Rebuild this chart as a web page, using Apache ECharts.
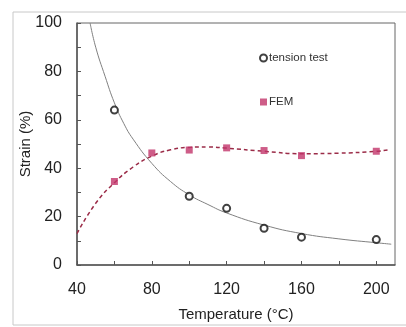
<!DOCTYPE html>
<html>
<head>
<meta charset="utf-8">
<script src="https://cdn.jsdelivr.net/npm/echarts@6/dist/echarts.min.js"></script>
<style>
  html, body { margin: 0; padding: 0; background: #fff; }
  #chart { width: 406px; height: 327px; }
</style>
</head>
<body>
<div id="chart"></div>
<script>
// measured points
const tensionX = [60, 100, 120, 140, 160, 200]
const tensionY = [64, 28.4, 23.4, 15.2, 11.5, 10.5]
const femX = [60, 80, 100, 120, 140, 160, 200]
const femY = [34.5, 46.3, 47.5, 48.4, 47.3, 45.2, 47]

// fitted curves
const tensionFitX = [47, 50, 55, 60, 65, 70, 80, 90, 100, 110, 120, 140, 160, 180, 200, 208]
const tensionFitY = [100, 90, 78, 67, 58.5, 52, 42, 34.5, 29, 25, 21.5, 16.5, 13, 10.8, 9.2, 8.6]
const femFitX = [40, 50, 60, 70, 80, 90, 100, 110, 120, 140, 160, 180, 200, 206]
const femFitY = [13, 25.5, 34, 40.5, 45, 47.6, 48.6, 48.8, 48.3, 47, 46, 46.2, 47, 47.5]

const pairs = (xs, ys) => xs.map((x, i) => [x, ys[i]])

const font = 'Liberation Sans, Arial, sans-serif'
const axisColor = '#555'

const chart = echarts.init(document.getElementById('chart'))

chart.setOption({
  animation: false,
  backgroundColor: '#fff',
  grid: {
    left: 77, right: 11, top: 23, bottom: 60,
    show: true, borderColor: '#666', borderWidth: 1
  },
  graphic: [{
    type: 'rect',
    shape: { x: 13, y: 12, width: 400, height: 313 },
    style: { fill: 'none', stroke: '#c8c8c8', lineWidth: 1 },
    silent: true
  }],
  legend: {
    data: ['tension test', 'FEM'],
    orient: 'vertical',
    left: 254,
    top: 47,
    itemGap: 32,
    itemWidth: 7,
    itemHeight: 7,
    itemStyle: { borderWidth: 2 },
    textStyle: { fontFamily: font, fontSize: 11.5, color: '#333', padding: [0, 0, 0, -3] }
  },
  xAxis: {
    type: 'value',
    min: 40, max: 210, interval: 20,
    name: 'Temperature (°C)',
    nameLocation: 'middle',
    nameGap: 42,
    nameMoveOverlap: false,
    nameTextStyle: { fontFamily: font, fontSize: 15, color: '#222' },
    axisLine: { lineStyle: { color: axisColor, width: 1.5 } },
    axisTick: { inside: true, length: 4, lineStyle: { color: axisColor } },
    axisLabel: {
      fontFamily: font, fontSize: 16, color: '#222', margin: 17,
      showMaxLabel: false,
      formatter: v => (v % 40 === 0 && v <= 200) ? String(v) : ''
    },
    splitLine: { show: false }
  },
  yAxis: {
    type: 'value',
    min: 0, max: 100, interval: 10,
    name: 'Strain (%)',
    nameLocation: 'middle',
    nameGap: 44,
    nameMoveOverlap: false,
    nameTextStyle: { fontFamily: font, fontSize: 15, color: '#222' },
    axisLine: { lineStyle: { color: axisColor, width: 1.5 } },
    axisTick: { inside: true, length: 4, lineStyle: { color: axisColor } },
    axisLabel: {
      fontFamily: font, fontSize: 16, color: '#222', margin: 15,
      formatter: v => v % 20 === 0 ? String(v) : ''
    },
    splitLine: { show: false }
  },
  series: [
    {
      name: 'tension fit',
      type: 'line',
      data: pairs(tensionFitX, tensionFitY),
      smooth: true,
      showSymbol: false,
      lineStyle: { color: '#808080', width: 1 },
      z: 1
    },
    {
      name: 'FEM fit',
      type: 'line',
      data: pairs(femFitX, femFitY),
      smooth: true,
      showSymbol: false,
      lineStyle: { color: '#9b2c48', width: 1.5, type: [4, 3] },
      z: 1
    },
    {
      name: 'tension test',
      type: 'scatter',
      data: pairs(tensionX, tensionY),
      symbol: 'circle',
      symbolSize: 7,
      itemStyle: { color: '#fff', borderColor: '#111', borderWidth: 2 },
      z: 3
    },
    {
      name: 'FEM',
      type: 'scatter',
      data: pairs(femX, femY),
      symbol: 'rect',
      symbolSize: 7,
      itemStyle: { color: '#c2356a', borderWidth: 0 },
      z: 3
    }
  ]
})
</script>
</body>
</html>
